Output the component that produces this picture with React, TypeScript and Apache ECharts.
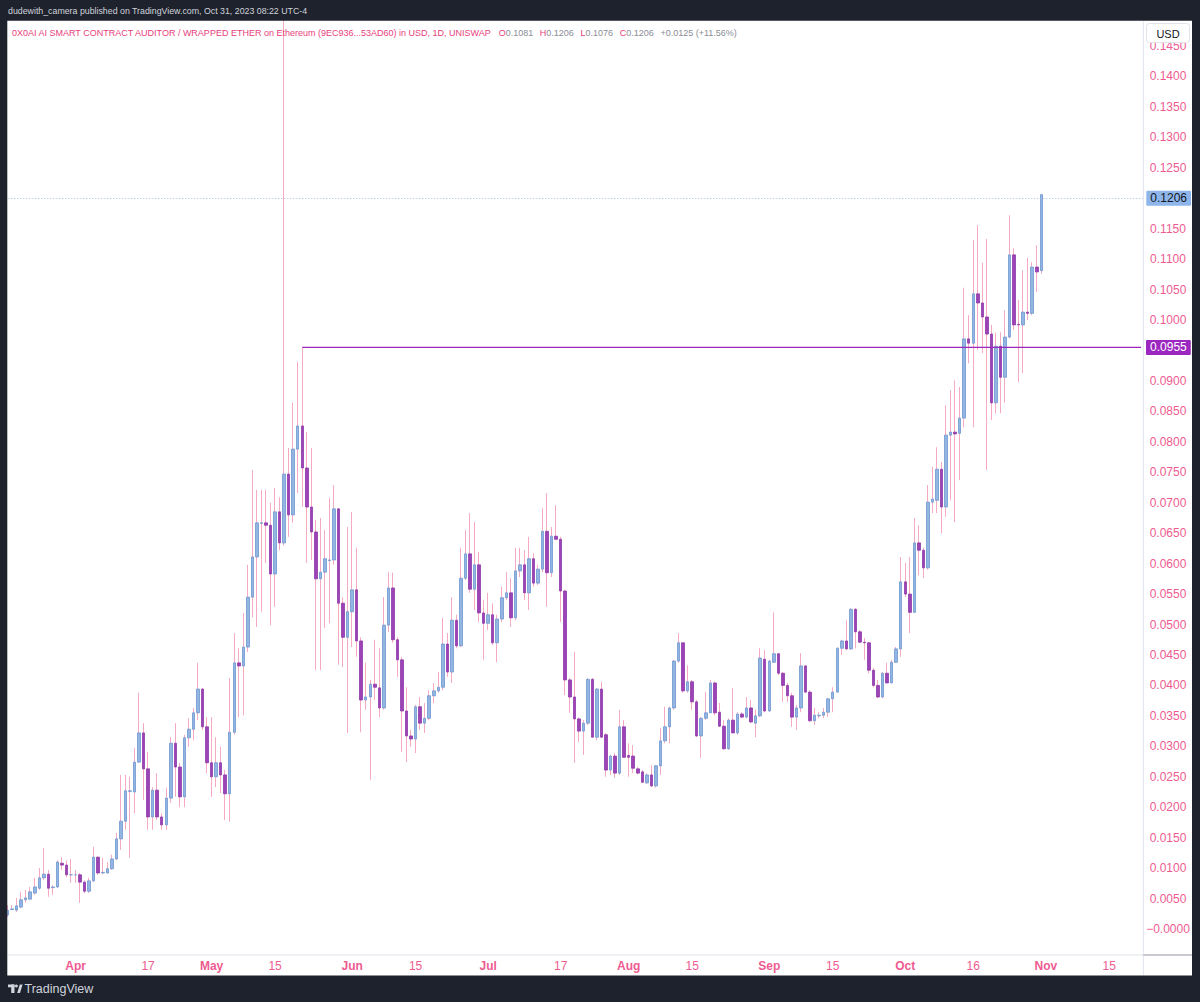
import React, { useEffect, useRef } from 'react';
import * as echarts from 'echarts';

// ---------- data ----------
const startDay = Date.UTC(2023, 2, 17); // first candle: 17 Mar 2023
const categoryCount = 251; // visible days on the time scale (to 22 Nov)

const tickDates = ['2023-04-01', '2023-04-17', '2023-05-01', '2023-05-15', '2023-06-01', '2023-06-15', '2023-07-01', '2023-07-17', '2023-08-01', '2023-08-15', '2023-09-01', '2023-09-15', '2023-10-01', '2023-10-16', '2023-11-01', '2023-11-15'];
const tickTexts = ['Apr', '17', 'May', '15', 'Jun', '15', 'Jul', '17', 'Aug', '15', 'Sep', '15', 'Oct', '16', 'Nov', '15'];
const monthTexts = ['Apr', 'May', 'Jun', 'Jul', 'Aug', 'Sep', 'Oct', 'Nov'];

const open = [
  0.0023, 0.0032, 0.0031, 0.0036, 0.0048, 0.0049, 0.0059, 0.0067, 0.0084, 0.0090,
  0.0068, 0.0069, 0.0108, 0.0105, 0.0089, 0.0089, 0.0089, 0.0077, 0.0062, 0.0079,
  0.0118, 0.0092, 0.0092, 0.0099, 0.0115, 0.0148, 0.0177, 0.0226, 0.0225, 0.0274,
  0.0322, 0.0263, 0.0184, 0.0228, 0.0184, 0.0171, 0.0215, 0.0305, 0.0266, 0.0217,
  0.0314, 0.0328, 0.0355, 0.0394, 0.0332, 0.0273, 0.0250, 0.0273, 0.0253, 0.0222,
  0.0323, 0.0437, 0.0432, 0.0463, 0.0545, 0.0611, 0.0666, 0.0667, 0.0663, 0.0583,
  0.0685, 0.0634, 0.0747, 0.0680, 0.0788, 0.0826, 0.0757, 0.0693, 0.0652, 0.0575,
  0.0586, 0.0605, 0.0606, 0.0690, 0.0535, 0.0479, 0.0521, 0.0557, 0.0473, 0.0376,
  0.0381, 0.0402, 0.0396, 0.0363, 0.0499, 0.0560, 0.0475, 0.0442, 0.0358, 0.0317,
  0.0312, 0.0365, 0.0338, 0.0346, 0.0383, 0.0391, 0.0397, 0.0468, 0.0422, 0.0507,
  0.0465, 0.0576, 0.0616, 0.0558, 0.0598, 0.0519, 0.0502, 0.0516, 0.0470, 0.0509,
  0.0544, 0.0552, 0.0511, 0.0588, 0.0598, 0.0552, 0.0608, 0.0568, 0.0591, 0.0653,
  0.0585, 0.0645, 0.0640, 0.0555, 0.0409, 0.0381, 0.0345, 0.0325, 0.0338, 0.0410,
  0.0315, 0.0394, 0.0319, 0.0261, 0.0284, 0.0256, 0.0332, 0.0285, 0.0284, 0.0263,
  0.0258, 0.0240, 0.0253, 0.0235, 0.0268, 0.0309, 0.0332, 0.0363, 0.0440, 0.0470,
  0.0391, 0.0406, 0.0373, 0.0317, 0.0346, 0.0355, 0.0404, 0.0356, 0.0333, 0.0296,
  0.0343, 0.0322, 0.0353, 0.0348, 0.0363, 0.0338, 0.0350, 0.0443, 0.0358, 0.0438,
  0.0452, 0.0420, 0.0400, 0.0383, 0.0348, 0.0363, 0.0432, 0.0389, 0.0342, 0.0350,
  0.0351, 0.0356, 0.0378, 0.0389, 0.0461, 0.0473, 0.0460, 0.0525, 0.0488, 0.0471,
  0.0470, 0.0425, 0.0400, 0.0381, 0.0420, 0.0404, 0.0438, 0.0460, 0.0570, 0.0550,
  0.0520, 0.0634, 0.0622, 0.0593, 0.0701, 0.0704, 0.0755, 0.0693, 0.0811, 0.0816,
  0.0814, 0.0839, 0.0969, 0.0962, 0.1043, 0.1028, 0.1005, 0.0977, 0.0864, 0.0957,
  0.0906, 0.0972, 0.1107, 0.0993, 0.0992, 0.1013, 0.1011, 0.1087, 0.1081,
];

const close = [
  0.0031, 0.0033, 0.0038, 0.0048, 0.0051, 0.0061, 0.0069, 0.0084, 0.0090, 0.0067,
  0.0069, 0.0110, 0.0105, 0.0089, 0.0089, 0.0089, 0.0077, 0.0062, 0.0079, 0.0118,
  0.0092, 0.0093, 0.0099, 0.0115, 0.0148, 0.0177, 0.0227, 0.0227, 0.0274, 0.0322,
  0.0263, 0.0184, 0.0228, 0.0184, 0.0171, 0.0215, 0.0305, 0.0266, 0.0217, 0.0314,
  0.0328, 0.0355, 0.0394, 0.0332, 0.0273, 0.0250, 0.0273, 0.0253, 0.0222, 0.0323,
  0.0437, 0.0432, 0.0463, 0.0545, 0.0611, 0.0667, 0.0667, 0.0663, 0.0583, 0.0685,
  0.0634, 0.0747, 0.0680, 0.0788, 0.0826, 0.0757, 0.0693, 0.0652, 0.0575, 0.0586,
  0.0608, 0.0606, 0.0690, 0.0535, 0.0479, 0.0521, 0.0557, 0.0473, 0.0376, 0.0381,
  0.0402, 0.0397, 0.0363, 0.0499, 0.0560, 0.0475, 0.0442, 0.0358, 0.0317, 0.0312,
  0.0365, 0.0338, 0.0346, 0.0383, 0.0391, 0.0397, 0.0468, 0.0422, 0.0507, 0.0465,
  0.0576, 0.0616, 0.0558, 0.0598, 0.0519, 0.0502, 0.0516, 0.0470, 0.0509, 0.0544,
  0.0552, 0.0511, 0.0588, 0.0598, 0.0552, 0.0608, 0.0568, 0.0591, 0.0653, 0.0585,
  0.0645, 0.0640, 0.0555, 0.0409, 0.0381, 0.0345, 0.0325, 0.0338, 0.0410, 0.0315,
  0.0394, 0.0315, 0.0261, 0.0284, 0.0256, 0.0332, 0.0282, 0.0282, 0.0264, 0.0256,
  0.0241, 0.0253, 0.0235, 0.0268, 0.0309, 0.0332, 0.0363, 0.0440, 0.0470, 0.0391,
  0.0406, 0.0373, 0.0317, 0.0346, 0.0355, 0.0404, 0.0355, 0.0333, 0.0296, 0.0343,
  0.0322, 0.0353, 0.0348, 0.0363, 0.0340, 0.0350, 0.0445, 0.0358, 0.0440, 0.0452,
  0.0420, 0.0400, 0.0383, 0.0348, 0.0363, 0.0432, 0.0389, 0.0342, 0.0351, 0.0351,
  0.0356, 0.0378, 0.0389, 0.0461, 0.0473, 0.0460, 0.0525, 0.0488, 0.0471, 0.0470,
  0.0425, 0.0400, 0.0381, 0.0420, 0.0404, 0.0438, 0.0460, 0.0570, 0.0550, 0.0520,
  0.0634, 0.0622, 0.0593, 0.0701, 0.0706, 0.0755, 0.0693, 0.0811, 0.0816, 0.0813,
  0.0839, 0.0969, 0.0962, 0.1043, 0.1028, 0.1005, 0.0977, 0.0864, 0.0957, 0.0906,
  0.0972, 0.1107, 0.0992, 0.0992, 0.1013, 0.1011, 0.1087, 0.1079, 0.1206,
];

const low = [
  0.0020, 0.0031, 0.0028, 0.0034, 0.0043, 0.0048, 0.0056, 0.0064, 0.0080, 0.0053,
  0.0056, 0.0067, 0.0097, 0.0085, 0.0076, 0.0076, 0.0043, 0.0059, 0.0059, 0.0077,
  0.0089, 0.0090, 0.0091, 0.0097, 0.0113, 0.0130, 0.0163, 0.0117, 0.0190, 0.0273,
  0.0212, 0.0163, 0.0163, 0.0179, 0.0163, 0.0163, 0.0207, 0.0217, 0.0200, 0.0200,
  0.0299, 0.0310, 0.0343, 0.0327, 0.0256, 0.0217, 0.0233, 0.0223, 0.0179, 0.0176,
  0.0319, 0.0348, 0.0351, 0.0455, 0.0512, 0.0496, 0.0521, 0.0601, 0.0499, 0.0529,
  0.0622, 0.0630, 0.0644, 0.0667, 0.0716, 0.0693, 0.0601, 0.0606, 0.0425, 0.0425,
  0.0494, 0.0502, 0.0598, 0.0434, 0.0430, 0.0322, 0.0463, 0.0447, 0.0323, 0.0360,
  0.0245, 0.0376, 0.0348, 0.0360, 0.0488, 0.0470, 0.0414, 0.0291, 0.0274, 0.0299,
  0.0289, 0.0327, 0.0322, 0.0343, 0.0371, 0.0388, 0.0392, 0.0414, 0.0404, 0.0461,
  0.0463, 0.0573, 0.0552, 0.0524, 0.0504, 0.0442, 0.0491, 0.0466, 0.0438, 0.0504,
  0.0540, 0.0496, 0.0507, 0.0578, 0.0540, 0.0524, 0.0562, 0.0565, 0.0586, 0.0529,
  0.0578, 0.0639, 0.0504, 0.0384, 0.0355, 0.0273, 0.0307, 0.0286, 0.0335, 0.0314,
  0.0310, 0.0314, 0.0250, 0.0253, 0.0248, 0.0253, 0.0281, 0.0250, 0.0256, 0.0254,
  0.0240, 0.0238, 0.0233, 0.0232, 0.0253, 0.0305, 0.0305, 0.0360, 0.0437, 0.0388,
  0.0388, 0.0360, 0.0315, 0.0281, 0.0343, 0.0355, 0.0351, 0.0332, 0.0294, 0.0294,
  0.0322, 0.0319, 0.0346, 0.0346, 0.0338, 0.0315, 0.0348, 0.0356, 0.0356, 0.0437,
  0.0417, 0.0373, 0.0373, 0.0332, 0.0327, 0.0356, 0.0388, 0.0340, 0.0335, 0.0346,
  0.0346, 0.0348, 0.0356, 0.0388, 0.0450, 0.0458, 0.0458, 0.0461, 0.0470, 0.0442,
  0.0420, 0.0397, 0.0379, 0.0379, 0.0404, 0.0404, 0.0437, 0.0447, 0.0545, 0.0486,
  0.0519, 0.0581, 0.0576, 0.0590, 0.0683, 0.0683, 0.0650, 0.0677, 0.0704, 0.0668,
  0.0737, 0.0824, 0.0929, 0.0824, 0.0951, 0.0946, 0.0754, 0.0836, 0.0847, 0.0847,
  0.0864, 0.0970, 0.0984, 0.0898, 0.0913, 0.1000, 0.1008, 0.1046, 0.1076,
];

const high = [
  0.0039, 0.0039, 0.0051, 0.0061, 0.0064, 0.0069, 0.0084, 0.0100, 0.0133, 0.0097,
  0.0072, 0.0113, 0.0118, 0.0113, 0.0115, 0.0097, 0.0092, 0.0080, 0.0084, 0.0135,
  0.0119, 0.0117, 0.0110, 0.0122, 0.0158, 0.0253, 0.0253, 0.0250, 0.0297, 0.0388,
  0.0338, 0.0291, 0.0233, 0.0256, 0.0190, 0.0232, 0.0315, 0.0338, 0.0273, 0.0319,
  0.0346, 0.0363, 0.0437, 0.0396, 0.0348, 0.0348, 0.0315, 0.0299, 0.0261, 0.0412,
  0.0486, 0.0461, 0.0519, 0.0598, 0.0754, 0.0721, 0.0721, 0.0721, 0.0700, 0.0724,
  0.0709, 0.1600, 0.0790, 0.0864, 0.0931, 0.0955, 0.0816, 0.0790, 0.0672, 0.0675,
  0.0655, 0.0708, 0.0729, 0.0691, 0.0545, 0.0660, 0.0685, 0.0626, 0.0479, 0.0437,
  0.0409, 0.0475, 0.0461, 0.0545, 0.0586, 0.0585, 0.0479, 0.0447, 0.0397, 0.0327,
  0.0368, 0.0381, 0.0371, 0.0392, 0.0404, 0.0422, 0.0511, 0.0486, 0.0545, 0.0516,
  0.0626, 0.0655, 0.0683, 0.0668, 0.0619, 0.0540, 0.0552, 0.0535, 0.0516, 0.0562,
  0.0586, 0.0576, 0.0626, 0.0626, 0.0622, 0.0644, 0.0617, 0.0598, 0.0691, 0.0716,
  0.0660, 0.0696, 0.0644, 0.0557, 0.0412, 0.0455, 0.0347, 0.0343, 0.0412, 0.0412,
  0.0396, 0.0406, 0.0322, 0.0286, 0.0289, 0.0360, 0.0343, 0.0305, 0.0302, 0.0266,
  0.0261, 0.0256, 0.0269, 0.0269, 0.0330, 0.0365, 0.0365, 0.0442, 0.0486, 0.0470,
  0.0433, 0.0409, 0.0376, 0.0348, 0.0389, 0.0409, 0.0406, 0.0371, 0.0343, 0.0346,
  0.0396, 0.0356, 0.0356, 0.0381, 0.0376, 0.0360, 0.0461, 0.0458, 0.0442, 0.0520,
  0.0453, 0.0422, 0.0404, 0.0388, 0.0368, 0.0453, 0.0433, 0.0392, 0.0363, 0.0356,
  0.0363, 0.0379, 0.0397, 0.0463, 0.0475, 0.0507, 0.0527, 0.0527, 0.0491, 0.0478,
  0.0471, 0.0429, 0.0409, 0.0422, 0.0437, 0.0442, 0.0463, 0.0611, 0.0601, 0.0611,
  0.0675, 0.0663, 0.0626, 0.0729, 0.0759, 0.0791, 0.0767, 0.0860, 0.0885, 0.0901,
  0.0890, 0.1053, 0.1008, 0.1131, 0.1156, 0.1094, 0.1133, 0.0992, 0.0979, 0.0980,
  0.1016, 0.1172, 0.1118, 0.1033, 0.1082, 0.1102, 0.1095, 0.1123, 0.1206,
];

const lastPrice = 0.1206;
const levelPrice = 0.0955;
const levelStartIndex = 65;
// axis ticks hidden behind the two price tags
const coveredTicks = [0.12, 0.095];

// ---------- styles ----------
const FONT = 'Liberation Sans, Arial, sans-serif';
const DARK = '#1e222d';
const PINK = '#ee5b91';
const TITLE_PINK = '#e8407c';
const WICK = '#f6a9c3';
const UP = '#93b5e1';
const UP_BORDER = '#6e97d0';
const DOWN = '#9c44b6';
const DOWN_BORDER = '#8e38a8';
const LEVEL = '#9c27c0';

function buildDates(): string[] {
  const out: string[] = [];
  for (let i = 0; i < categoryCount; i++) {
    out.push(new Date(startDay + i * 86400000).toISOString().slice(0, 10));
  }
  return out;
}

export default function App() {
  const ref = useRef<HTMLDivElement>(null);

  useEffect(() => {
    if (!ref.current) return;
    const chart = echarts.init(ref.current, null, { renderer: 'svg' });
    const dates = buildDates();

    const wickData = open.map((o, i) => [o, close[i], low[i], high[i]]);
    const bodyData = open.map((o, i) => [o, close[i], Math.min(o, close[i]), Math.max(o, close[i])]);
    const levelData = dates.map((_, i) => (i === levelStartIndex || i === categoryCount - 1 ? levelPrice : '-'));

    const option: any = {
      animation: false,
      backgroundColor: '#ffffff',
      textStyle: { fontFamily: FONT },
      grid: {
        left: 5.3,
        right: 56.7,
        top: 15.55,
        height: 943.9,
        containLabel: false,
        outerBoundsMode: 'none',
      },
      xAxis: {
        type: 'category',
        data: dates,
        boundaryGap: true,
        axisLine: { show: false },
        axisTick: { show: false },
        splitLine: { show: false },
        axisLabel: {
          margin: 1,
          hideOverlap: false,
          interval: (_idx: number, val: string) => tickDates.indexOf(val) >= 0,
          formatter: (val: string) => {
            const k = tickDates.indexOf(val);
            if (k < 0) return '';
            const t = tickTexts[k];
            return monthTexts.indexOf(t) >= 0 ? `{m|${t}}` : `{d|${t}}`;
          },
          rich: {
            m: { color: PINK, fontSize: 12, fontWeight: 'bold', fontFamily: FONT },
            d: { color: PINK, fontSize: 12, fontFamily: FONT },
          },
        },
      },
      yAxis: {
        type: 'value',
        position: 'right',
        min: -0.005,
        max: 0.15,
        interval: 0.005,
        axisLine: { show: false },
        axisTick: { show: false },
        splitLine: { show: false },
        axisLabel: {
          color: PINK,
          fontSize: 12,
          fontFamily: FONT,
          margin: 24.7,
          align: 'center',
          showMinLabel: false,
          showMaxLabel: false,
          formatter: (v: number) => {
            if (coveredTicks.some((c) => Math.abs(c - v) < 1e-9)) return '';
            return Math.abs(v) < 1e-9 ? '\u22120.0000' : v.toFixed(4);
          },
        },
      },
      series: [
        {
          name: 'wicks',
          type: 'candlestick',
          data: wickData,
          barWidth: 1,
          silent: true,
          z: 2,
          itemStyle: { color: WICK, color0: WICK, borderColor: WICK, borderColor0: WICK, borderWidth: 1 },
        },
        {
          name: 'bodies',
          type: 'candlestick',
          data: bodyData,
          barWidth: 3,
          silent: true,
          z: 3,
          itemStyle: { color: UP, color0: DOWN, borderColor: UP_BORDER, borderColor0: DOWN_BORDER, borderWidth: 0.8 },
          markLine: {
            silent: true,
            symbol: ['none', 'none'],
            data: [{ yAxis: lastPrice }],
            lineStyle: { type: [1, 2], color: '#a9bcd8', width: 1 },
            label: {
              show: true,
              position: 'end',
              distance: 3,
              formatter: () => lastPrice.toFixed(4),
              backgroundColor: '#8fb6ea',
              color: '#131722',
              fontSize: 12,
              fontFamily: FONT,
              padding: [2, 4, 1, 4],
              borderRadius: 1,
            },
          },
        },
        {
          name: 'level',
          type: 'line',
          data: levelData,
          connectNulls: true,
          symbol: 'none',
          silent: true,
          clip: false,
          z: 4,
          lineStyle: { color: LEVEL, width: 1.2 },
          endLabel: {
            show: true,
            distance: 5,
            formatter: () => levelPrice.toFixed(4),
            backgroundColor: LEVEL,
            color: '#ffffff',
            fontSize: 12,
            fontFamily: FONT,
            padding: [2, 4, 1, 4],
            borderRadius: 1,
          },
        },
      ],
      graphic: [
        // frame
        { type: 'rect', z: 100, silent: true, shape: { x: 0, y: 0, width: 1200, height: 20.7 }, style: { fill: DARK } },
        { type: 'rect', z: 100, silent: true, shape: { x: 0, y: 0, width: 7.3, height: 1002 }, style: { fill: DARK } },
        { type: 'rect', z: 100, silent: true, shape: { x: 1192, y: 0, width: 8, height: 1002 }, style: { fill: DARK } },
        { type: 'rect', z: 100, silent: true, shape: { x: 0, y: 975.5, width: 1200, height: 26.5 }, style: { fill: DARK } },
        // separators
        { type: 'line', z: 99, silent: true, shape: { x1: 1143.3, y1: 20.7, x2: 1143.3, y2: 975.5 }, style: { stroke: '#e0e3eb', lineWidth: 1 } },
        { type: 'line', z: 99, silent: true, shape: { x1: 7.3, y1: 955, x2: 1143.3, y2: 955 }, style: { stroke: '#e0e3eb', lineWidth: 1 } },
        { type: 'line', z: 99, silent: true, shape: { x1: 1143.3, y1: 955, x2: 1192, y2: 955 }, style: { stroke: '#9598a1', lineWidth: 1 } },
        // USD box
        { type: 'rect', z: 101, silent: true, shape: { x: 1146.5, y: 23.5, width: 43, height: 19, r: 3 }, style: { fill: '#ffffff', stroke: '#e0e3eb', lineWidth: 1 } },
        { type: 'text', z: 102, silent: true, style: { x: 1168, y: 33.5, text: 'USD', fill: '#131722', font: `11px ${FONT}`, align: 'center', verticalAlign: 'middle' } },
        // publisher line
        {
          type: 'text', z: 102, silent: true,
          style: { x: 8, y: 10.5, text: 'dudewith_camera published on TradingView.com, Oct 31, 2023 08:22 UTC-4', fill: '#d1d4dc', font: `8.8px ${FONT}`, verticalAlign: 'middle' },
        },
        // legend
        {
          type: 'text', z: 102, silent: true,
          style: {
            x: 12, y: 32.5, verticalAlign: 'middle',
            text: '{t|0X0AI AI SMART CONTRACT AUDITOR / WRAPPED ETHER on Ethereum (9EC936...53AD60) in USD, 1D, UNISWAP}  {k|O}{v|0.1081}  {k|H}{v|0.1206}  {k|L}{v|0.1076}  {k|C}{v|0.1206}  {v|+0.0125 (+11.56%)}',
            rich: {
              t: { fill: TITLE_PINK, font: `9px ${FONT}` },
              k: { fill: TITLE_PINK, font: `9px ${FONT}` },
              v: { fill: '#8a8d97', font: `9px ${FONT}` },
            },
          },
        },
        // footer logo
        { type: 'rect', z: 102, silent: true, shape: { x: 8, y: 984.5, width: 6.5, height: 2.8 }, style: { fill: '#d1d4dc' } },
        { type: 'rect', z: 102, silent: true, shape: { x: 11.2, y: 984.5, width: 3.3, height: 8.5 }, style: { fill: '#d1d4dc' } },
        { type: 'circle', z: 102, silent: true, shape: { cx: 16.4, cy: 986, r: 1.5 }, style: { fill: '#d1d4dc' } },
        { type: 'polygon', z: 102, silent: true, shape: { points: [[17.2, 993], [19.8, 984.5], [22.6, 984.5], [20, 993]] }, style: { fill: '#d1d4dc' } },
        { type: 'text', z: 102, silent: true, style: { x: 24.5, y: 989, text: 'TradingView', fill: '#d1d4dc', font: `12.5px ${FONT}`, verticalAlign: 'middle' } },
      ],
    };

    chart.setOption(option);
    return () => chart.dispose();
  }, []);

  return <div ref={ref} style={{ position: 'fixed', left: 0, top: 0, width: 1200, height: 1002 }} />;
}
